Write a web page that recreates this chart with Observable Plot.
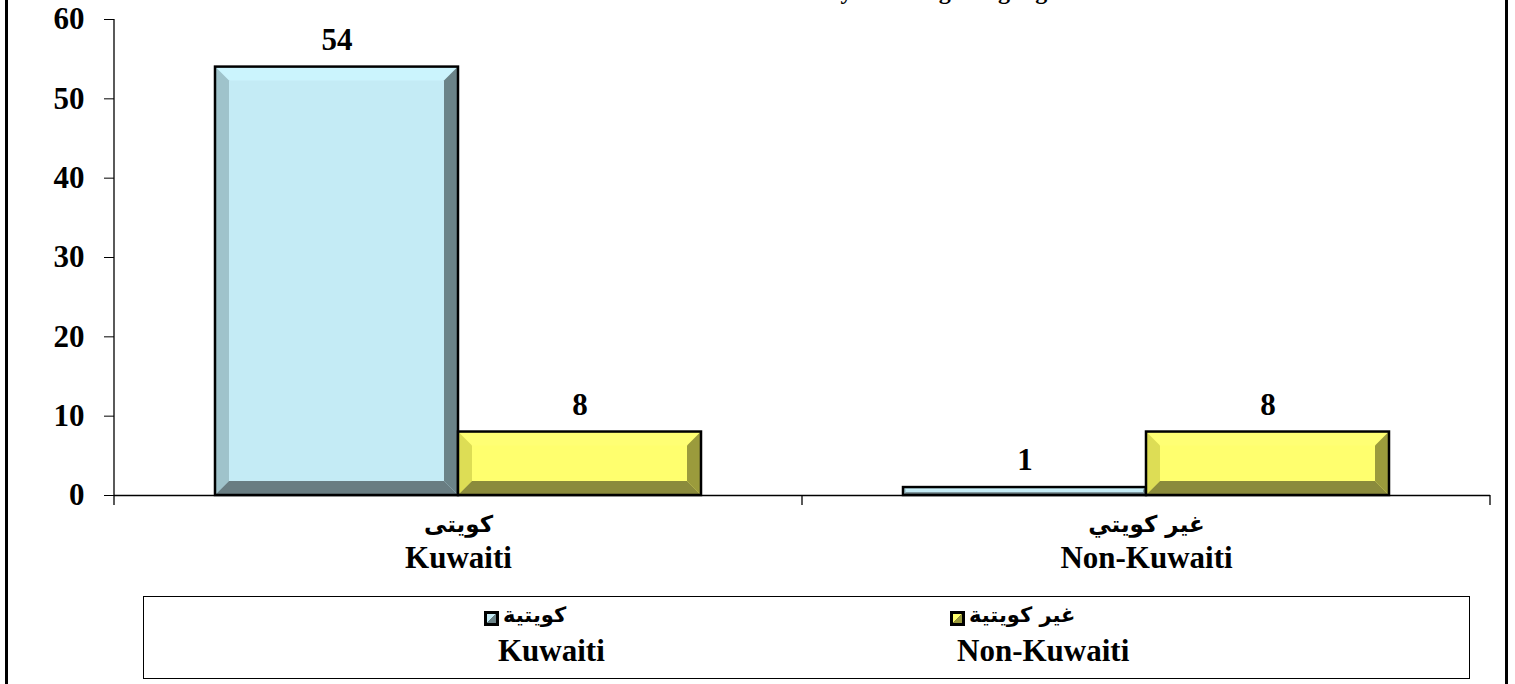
<!DOCTYPE html>
<html>
<head>
<meta charset="utf-8">
<script src="https://cdn.jsdelivr.net/npm/d3@7"></script>
<script src="https://cdn.jsdelivr.net/npm/@observablehq/plot@0.6"></script>
<style>
  body { margin: 0; background: #fff; }
  #wrap { position: relative; width: 1515px; height: 684px; overflow: hidden; background: #fff; }
  #frame { position: absolute; left: 5px; top: -10px; width: 1497px; height: 720px;
           border-left: 3px solid #000; border-right: 3px solid #000; pointer-events: none; }
  #title { position: absolute; right: 457px; top: -21px; font: bold 24px/24px "Liberation Serif", serif;
           white-space: nowrap; color: #000; }
  #legend { position: absolute; left: 143px; top: 596px; width: 1325px; height: 81px;
            border: 1.5px solid #000; }
  .li { position: absolute; white-space: nowrap; }
  .ar { font: bold 21px "DejaVu Sans", sans-serif; direction: rtl; unicode-bidi: isolate; }
  .en { font: bold 31px "Liberation Serif", serif; }
  svg.sw { vertical-align: middle; }
</style>
</head>
<body>
<div id="wrap">
  <div id="chart"></div>
  <div id="title">Distribution of Teachers by Teaching Language</div>
  <div id="legend"></div>
  <div id="frame"></div>
</div>
<script>
// ---- data ----
const categories = ["Kuwaiti", "Non-Kuwaiti"];
const categoriesAr = ["كويتى", "غير كويتي"];
const series = ["Kuwaiti", "Non-Kuwaiti"];
const seriesAr = ["كويتية", "غير كويتية"];
const kuwaitiValues = [54, 1];
const nonKuwaitiValues = [8, 8];
const yTicks = [0, 10, 20, 30, 40, 50, 60];

// ---- styles ----
const palette = {
  "Kuwaiti":     {face: "#c4ebf5", top: "#cbf4fd", left: "#9fc3cb", right: "#6b8388", bottom: "#697d82"},
  "Non-Kuwaiti": {face: "#ffff6e", top: "#ffff74", left: "#dddd55", right: "#9b9b3c", bottom: "#8b8b3c"}
};
const seriesValues = [kuwaitiValues, nonKuwaitiValues];
const rows = [];
categories.forEach((c, i) => series.forEach((s, j) => rows.push({category: c, series: s, value: seriesValues[j][i]})));

const font = '"Liberation Serif", serif';

const plot = Plot.plot({
  width: 1515,
  height: 684,
  marginLeft: 113,
  marginRight: 25,
  marginTop: 19,
  marginBottom: 189,
  style: {fontFamily: font, fontSize: "31px", fontWeight: "bold", color: "#000", background: "transparent", overflow: "visible"},
  fx: {domain: categories, padding: 0, axis: null},
  x: {domain: series, paddingInner: 0, paddingOuter: 0.414, axis: null},
  y: {domain: [0, 60], ticks: yTicks, tickSize: 10, tickPadding: 20, label: null, line: false},
  marks: [
    Plot.barY(rows, {fx: "category", x: "series", y: "value", fill: d => palette[d.series].face}),
    Plot.ruleY([0], {stroke: "#000", strokeWidth: 1.3}),
    Plot.text(rows, {fx: "category", x: "series", y: "value", text: d => String(d.value),
                     dy: -27, fontSize: 31, fontWeight: "bold", fill: "#000"}),
    Plot.text(categories, {fx: d => d, text: (d, i) => categoriesAr[i], frameAnchor: "bottom", dy: 36,
                           fontFamily: '"DejaVu Sans", sans-serif', fontSize: 23, fontWeight: "bold", fill: "#000"}),
    Plot.text(categories, {fx: d => d, text: d => d, frameAnchor: "bottom", dy: 72,
                           fontSize: 31, fontWeight: "bold", fill: "#000"})
  ]
});
document.getElementById("chart").appendChild(plot);

// ---- bevels on bars (from the rendered rects) ----
const fillToSeries = {};
series.forEach(s => fillToSeries[palette[s].face] = s);
const svgNS = "http://www.w3.org/2000/svg";
plot.querySelectorAll('g[aria-label="bar"] rect').forEach(r => {
  const x = +r.getAttribute("x"), y = +r.getAttribute("y");
  const w = +r.getAttribute("width"), h = +r.getAttribute("height");
  const s = fillToSeries[r.getAttribute("fill")] || series[0];
  const p = palette[s];
  const b = Math.min(14, h * 0.35, w * 0.35);
  const parent = r.parentNode;
  const polys = [
    [p.top,    [[x, y], [x + w, y], [x + w - b, y + b], [x + b, y + b]]],
    [p.left,   [[x, y], [x + b, y + b], [x + b, y + h - b], [x, y + h]]],
    [p.right,  [[x + w, y], [x + w, y + h], [x + w - b, y + h - b], [x + w - b, y + b]]],
    [p.bottom, [[x, y + h], [x + b, y + h - b], [x + w - b, y + h - b], [x + w, y + h]]]
  ];
  const tr = r.getAttribute("transform");
  polys.forEach(([c, pts]) => {
    const pg = document.createElementNS(svgNS, "polygon");
    pg.setAttribute("points", pts.map(q => q.join(",")).join(" "));
    pg.setAttribute("fill", c);
    if (tr) pg.setAttribute("transform", tr);
    parent.appendChild(pg);
  });
  const o = document.createElementNS(svgNS, "rect");
  ["x", "y", "width", "height", "transform"].forEach(a => { if (r.getAttribute(a) != null) o.setAttribute(a, r.getAttribute(a)); });
  o.setAttribute("fill", "none");
  o.setAttribute("stroke", "#000");
  o.setAttribute("stroke-width", 2.5);
  parent.appendChild(o);
});

// ---- axis line and category boundary ticks ----
const fx = plot.scale("fx"), yS = plot.scale("y");
const y0 = yS.apply(0), yTop = yS.apply(60);
const svg = d3.select(plot.tagName.toLowerCase() === "svg" ? plot : plot.querySelector("svg"));
const g = svg.append("g").attr("stroke", "#000").attr("stroke-width", 1.3);
const xLeft = fx.apply(categories[0]);
g.append("line").attr("x1", xLeft).attr("x2", xLeft).attr("y1", yTop).attr("y2", y0 + 10);
categories.forEach(c => {
  const xb = fx.apply(c) + fx.bandwidth;
  g.append("line").attr("x1", xb).attr("x2", xb).attr("y1", y0).attr("y2", y0 + 10);
});

// ---- legend ----
function swatch(s) {
  const p = palette[s];
  return `<svg class="sw" width="15" height="15" viewBox="0 0 15 15">
    <rect x="0" y="0" width="15" height="15" fill="#000"/>
    <polygon points="3,3 12,3 3,12" fill="${p.face}"/>
    <polygon points="12,3 12,12 3,12" fill="${p.right}"/>
  </svg>`;
}
const legend = document.getElementById("legend");
const legendPos = [{sx: 340, ex: 354}, {sx: 806, ex: 813}];
series.forEach((s, i) => {
  const top = document.createElement("div");
  top.className = "li";
  top.style.left = legendPos[i].sx + "px";
  top.style.top = "6px";
  top.innerHTML = swatch(s) + `<span class="ar" style="margin-left:4px">${seriesAr[i]}</span>`;
  legend.appendChild(top);
  const bot = document.createElement("div");
  bot.className = "li en";
  bot.style.left = legendPos[i].ex + "px";
  bot.style.top = "36px";
  bot.textContent = s;
  legend.appendChild(bot);
});
</script>
</body>
</html>
